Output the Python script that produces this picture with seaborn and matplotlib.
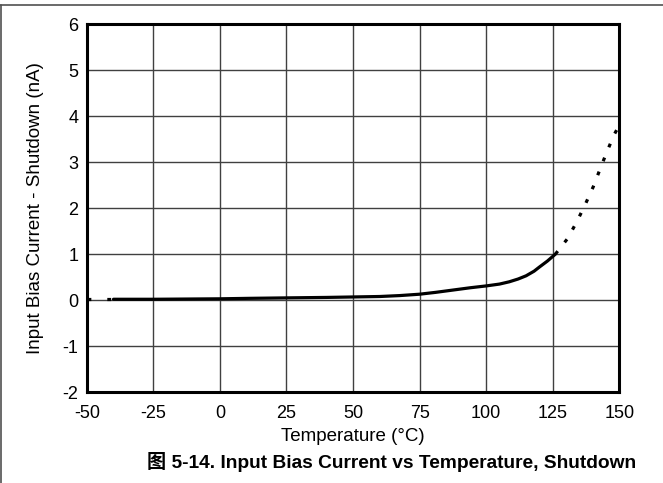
import numpy as np
import pandas as pd
import matplotlib
matplotlib.use("Agg")
import matplotlib.pyplot as plt
from matplotlib.lines import Line2D
import seaborn as sns

# Data
temp_low = [-50, -40]
bias_low = [0.02, 0.02]

temp_main = [-40, -25, 0, 11, 25, 40, 50, 60, 67.5, 75, 81, 87.5, 94, 100, 105,
             108.7, 112, 115, 118, 120, 123, 126]
bias_main = [0.02, 0.02, 0.03, 0.04, 0.05, 0.06, 0.07, 0.08, 0.10, 0.13, 0.17, 0.22, 0.27,
             0.31, 0.35, 0.40, 0.46, 0.53, 0.63, 0.72, 0.85, 1.0]

temp_high = [126, 130.6, 134.2, 137.3, 140.2, 142.8, 145.4, 148.1, 150]
bias_high = [1.0, 1.34, 1.72, 2.09, 2.46, 2.85, 3.23, 3.6, 3.8]

x_ticks = [-50, -25, 0, 25, 50, 75, 100, 125, 150]
y_ticks = [-2, -1, 0, 1, 2, 3, 4, 5, 6]

sns.set_theme(style="white")
plt.rcParams['font.family'] = ['Liberation Sans', 'Noto Sans CJK SC', 'DejaVu Sans']
plt.rcParams['axes.unicode_minus'] = False

fig = plt.figure(figsize=(6.63, 4.83), dpi=100)
ax = fig.add_axes([0.131, 0.188, 0.803, 0.762])

df_main = pd.DataFrame({'temp': temp_main, 'bias': bias_main})
df_low = pd.DataFrame({'temp': temp_low, 'bias': bias_low})
df_high = pd.DataFrame({'temp': temp_high, 'bias': bias_high})

sns.lineplot(data=df_main, x='temp', y='bias', ax=ax, color='black', linewidth=2.3, zorder=3)
sns.lineplot(data=df_low, x='temp', y='bias', ax=ax, color='black', linewidth=2.3,
             linestyle=(0, (1.2, 5.0)), zorder=3)
sns.lineplot(data=df_high, x='temp', y='bias', ax=ax, color='black', linewidth=2.3,
             linestyle=(0, (1.2, 3.5)), zorder=3)

ax.set_xlim(-50, 150)
ax.set_ylim(-2, 6)
ax.set_xticks(x_ticks)
ax.set_yticks(y_ticks)
ax.grid(True, color='#404040', linewidth=1.0)
ax.tick_params(axis='x', length=0, labelsize=13, colors='black', pad=9)
ax.tick_params(axis='y', length=0, labelsize=13, colors='black', pad=6)
for s in ax.spines.values():
    s.set_linewidth(2.2)
    s.set_color('black')

ax.set_xlabel('Temperature (°C)', fontsize=13.5, color='black', va='center')
ax.set_ylabel('Input Bias Current - Shutdown (nA)', fontsize=13.5, color='black', va='center')
ax.xaxis.set_label_coords(0.5, (392 - 436) / 368)
ax.yaxis.set_label_coords((36 - 87) / 532, 0.5)

fig.text(392 / 663, 1 - 462 / 483, '图 5-14. Input Bias Current vs Temperature, Shutdown',
         ha='center', va='center', fontsize=13.8, fontweight='bold', color='black')

# frame lines at top and left of the picture
fig.add_artist(Line2D([0, 1], [1 - 5 / 483, 1 - 5 / 483], color='#505050', linewidth=1.2,
                      transform=fig.transFigure))
fig.add_artist(Line2D([0.001, 0.001], [0, 1 - 5 / 483], color='#505050', linewidth=1.2,
                      transform=fig.transFigure))

fig.savefig('out.png', dpi=100)
